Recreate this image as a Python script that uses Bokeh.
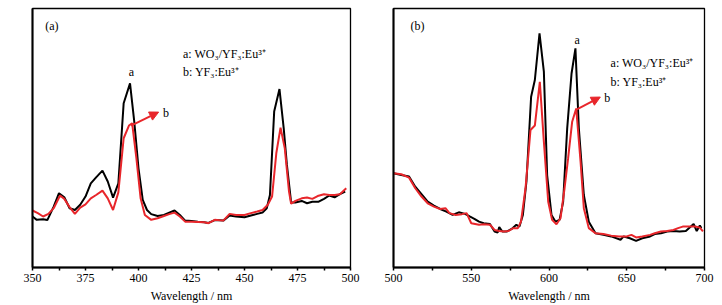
from bokeh.plotting import figure
from bokeh.layouts import row
from bokeh.models import FixedTicker, Arrow, NormalHead, Label
from bokeh.embed import file_html
from bokeh.resources import INLINE

# ---- Panel (a): excitation-like spectrum 350-500 nm ----
wl_a_black = [350, 352, 355, 357, 360, 362.5, 365, 367.5, 370, 372.5,
              375, 377.5, 380, 383, 385.5, 388, 390.5, 393, 396, 398,
              400, 402, 404, 406, 409, 412, 414.5, 417, 419.5, 422,
              425, 428, 431, 433, 436, 440, 443, 446, 450, 453,
              456, 458.5, 460.5, 462, 464, 466.5, 468.5, 470, 472, 474,
              477, 479.5, 482, 485, 487.5, 490, 492.5, 495, 497.5]
int_a_black = [19.7, 18.4, 18.6, 18.3, 23.5, 28.7, 27.1, 22.9, 22.2, 24.2,
               27.4, 32.5, 34.8, 37.4, 33.2, 27.0, 32.5, 63.4, 71.1, 56.3,
               38.3, 26.1, 22.2, 20.6, 19.9, 20.3, 21.2, 22.0, 20.3, 18.1,
               18.0, 17.7, 17.5, 17.2, 18.3, 18.1, 20.1, 19.7, 19.4, 20.1,
               20.7, 21.2, 22.9, 28.0, 60.2, 68.9, 53.7, 39.6, 25.1, 25.1,
               25.7, 24.8, 25.4, 25.4, 26.5, 27.8, 27.1, 28.3, 29.3]
wl_a_red = [350, 352.5, 355, 357.5, 360, 363, 365, 367.5, 370, 372.5,
            375, 377.5, 380, 383, 385.5, 388, 390.5, 393, 395.5, 397,
            399, 401, 403, 406, 409, 412, 414.5, 417, 419.5, 422,
            425, 428, 431, 433, 436, 440, 443, 446, 450, 453,
            456, 458.5, 461, 463, 465, 467, 469, 471, 472, 474,
            477, 479.5, 482, 484.5, 487.5, 490, 492.5, 495, 498]
int_a_red = [22.0, 21.0, 19.7, 20.7, 22.9, 27.8, 26.5, 23.3, 20.7, 23.1,
             24.4, 26.7, 28.0, 29.7, 26.7, 22.2, 29.0, 49.9, 54.8, 55.7,
             42.2, 26.7, 20.3, 18.4, 19.0, 19.9, 20.6, 21.2, 19.7, 17.7,
             17.7, 17.6, 17.5, 17.1, 18.4, 18.1, 20.7, 20.3, 20.3, 21.0,
             21.6, 22.2, 24.2, 27.4, 44.1, 54.0, 46.0, 29.3, 24.6, 25.7,
             26.7, 27.0, 26.5, 27.6, 28.3, 28.0, 28.0, 28.3, 30.6]

# ---- Panel (b): emission-like spectrum 500-700 nm ----
wl_b_black = [500, 505, 510, 514, 518, 522, 526, 530, 534, 538,
              542, 546, 549, 552, 555, 558, 562, 565, 567, 568,
              570, 573, 576, 579, 581, 583.2, 585.5, 588.5, 590.9, 593.9,
              596.7, 598.8, 601.6, 604.2, 606.8, 609.1, 611.7, 614.5, 617.0, 619.2,
              622.4, 625.6, 629.9, 635, 640, 646, 648, 652, 656, 660,
              665, 668, 672, 676, 680, 684, 688, 693, 695, 697, 698]
int_b_black = [36.4, 35.7, 35.1, 31.2, 28.3, 25.4, 23.9, 22.6, 21.6, 20.3,
               21.3, 20.7, 19.7, 18.8, 17.7, 17.1, 16.8, 13.9, 13.5, 15.6,
               13.9, 13.9, 14.9, 16.5, 15.8, 20.3, 33.2, 65.9, 72.4, 90.4,
               75.6, 35.7, 20.3, 17.7, 18.4, 25.4, 53.7, 74.9, 84.6, 53.7,
               28.0, 17.7, 13.2, 12.6, 12.0, 10.7, 12.0, 11.3, 10.3, 11.3,
               12.0, 12.9, 13.2, 13.9, 14.1, 13.9, 14.1, 16.8, 14.1, 16.2, 15.2]
wl_b_red = [500, 505, 510, 514, 518, 522, 526, 530, 533.4, 536,
            540, 544, 547, 550, 555, 558, 562, 565, 568, 571,
            574, 577, 580, 582, 584.9, 588.1, 590.9, 594.1, 596.7, 599.5,
            602, 604.8, 607.4, 610, 612.3, 614.9, 617.5, 620.3, 622.4, 625.6,
            629.9, 635, 640, 645, 650, 653, 656, 660, 665, 668,
            672, 676, 680, 683, 686, 690, 694, 697, 699]
int_b_red = [36.4, 36.0, 34.7, 30.6, 27.4, 24.8, 23.5, 22.6, 22.9, 21.0,
             20.3, 20.6, 21.0, 17.1, 16.5, 16.7, 16.5, 14.5, 14.1, 13.9,
             14.1, 15.2, 15.2, 17.7, 30.6, 53.1, 54.8, 71.7, 48.6, 25.4,
             18.4, 16.7, 19.0, 30.6, 42.2, 56.3, 61.4, 40.9, 22.9, 15.2,
             13.2, 12.9, 12.3, 12.0, 12.0, 12.6, 11.6, 12.0, 12.6, 13.2,
             13.9, 14.1, 14.5, 15.2, 15.8, 15.8, 15.8, 15.4, 13.9]

ticks_a = [350, 375, 400, 425, 450, 475, 500]
minor_a = [362.5, 387.5, 412.5, 437.5, 462.5, 487.5]
ticks_b = [500, 550, 600, 650, 700]
minor_b = [525, 575, 625, 675]

legend_a = "a: WO\u2083/YF\u2083:Eu\u00b3\u207a"
legend_b = "b: YF\u2083:Eu\u00b3\u207a"

FONT = "'Liberation Serif', 'Times New Roman', serif"
RED = "#e8262b"
FS = "12px"


def make_panel(xr, ticks, minor, xs_k, ys_k, xs_r, ys_r, border_l, frame_w, border_r,
               tag, tag_pos, a_pos, arrow, b_pos, leg_pos):
    p = figure(width=border_l + frame_w + border_r, height=305,
               frame_width=frame_w, frame_height=259,
               x_range=xr, y_range=(0, 100),
               output_backend="svg", toolbar_location=None,
               min_border_left=border_l, min_border_right=border_r,
               min_border_top=8, min_border_bottom=38)
    p.xgrid.visible = False
    p.ygrid.visible = False
    p.outline_line_color = "black"
    p.outline_line_width = 1.3
    p.background_fill_color = "white"
    p.border_fill_color = "white"

    xa = p.xaxis[0]
    xa.ticker = FixedTicker(ticks=ticks, minor_ticks=minor)
    xa.axis_line_width = 2
    xa.axis_line_color = "black"
    xa.major_tick_line_color = "black"
    xa.minor_tick_line_color = "black"
    xa.major_tick_in = 0
    xa.major_tick_out = 3
    xa.minor_tick_in = 0
    xa.minor_tick_out = 3
    xa.major_tick_line_width = 1.5
    xa.minor_tick_line_width = 1.5
    xa.major_label_text_font = FONT
    xa.major_label_text_font_size = FS
    xa.major_label_text_color = "#000000"
    xa.major_label_standoff = 3
    xa.axis_label = "Wavelength / nm"
    xa.axis_label_text_font = FONT
    xa.axis_label_text_font_style = "normal"
    xa.axis_label_text_font_size = FS
    xa.axis_label_text_color = "#000000"
    xa.axis_label_standoff = 4

    ya = p.yaxis[0]
    ya.ticker = FixedTicker(ticks=[])
    ya.axis_line_width = 2
    ya.axis_line_color = "black"
    ya.major_tick_in = 0
    ya.major_tick_out = 0
    ya.minor_tick_in = 0
    ya.minor_tick_out = 0
    ya.major_label_text_font_size = "0px"

    p.line(xs_k, ys_k, line_color="black", line_width=2)
    p.line(xs_r, ys_r, line_color=RED, line_width=2)

    def lab(x, y, t, align="left"):
        p.add_layout(Label(x=x, y=y, text=t, text_font=FONT, text_color="#000000",
                           text_font_size=FS, text_align=align,
                           text_baseline="middle"))

    lab(tag_pos[0], tag_pos[1], tag)
    lab(a_pos[0], a_pos[1], "a", "center")
    p.add_layout(Arrow(x_start=arrow[0], y_start=arrow[1], x_end=arrow[2], y_end=arrow[3],
                       line_color=RED, line_width=2,
                       end=NormalHead(size=9, fill_color=RED, line_color=RED)))
    lab(b_pos[0], b_pos[1], "b")
    lab(leg_pos[0], leg_pos[1], legend_a)
    lab(leg_pos[0], leg_pos[2], legend_b)
    return p


pa = make_panel((350, 500), ticks_a, minor_a, wl_a_black, int_a_black, wl_a_red, int_a_red,
                32, 318, 11, "(a)", (356, 93.3), (396.7, 75.5),
                (396.5, 54.8, 409.5, 60.0), (411.5, 59.8), (421, 82.6, 75.6))
pb = make_panel((500, 700), ticks_b, minor_b, wl_b_black, int_b_black, wl_b_red, int_b_red,
                32, 311, 18, "(b)", (511, 93.3), (618.1, 88.0),
                (617, 60.8, 633, 65.8), (635.5, 65.6), (639.6, 79.0, 71.7))

layout = row(pa, pb)
open("out.html", "w").write(file_html(layout, INLINE))
